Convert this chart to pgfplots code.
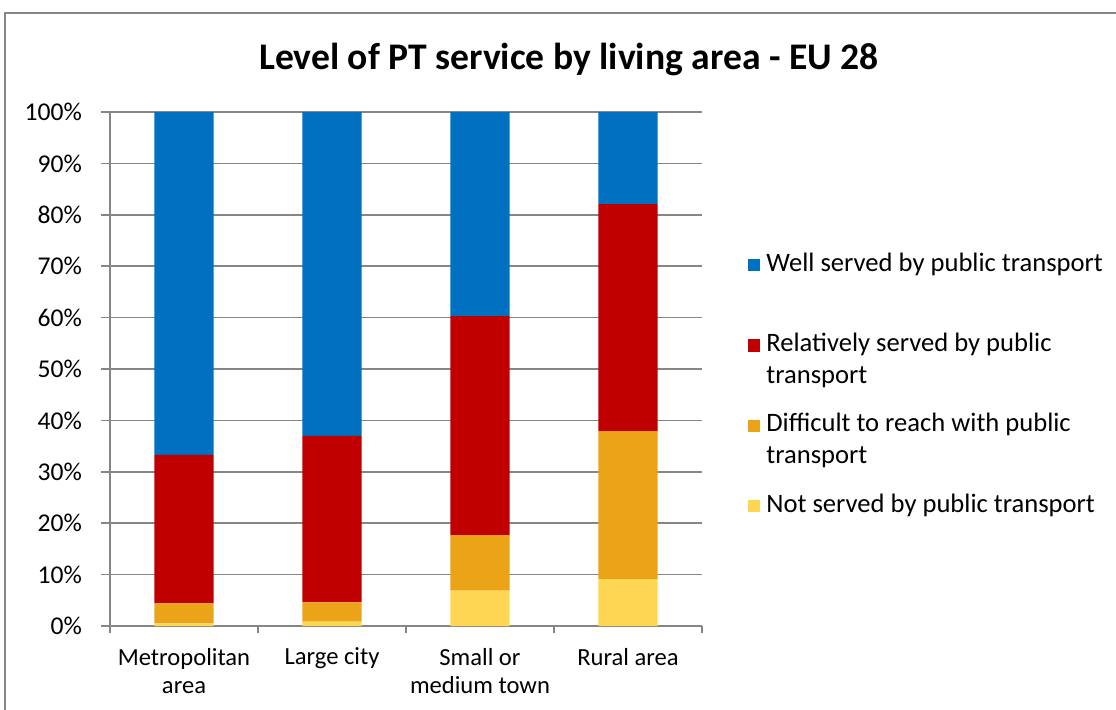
\documentclass[border=0pt]{standalone}
\usepackage{fontspec}
\setmainfont{Carlito}
\usepackage{pgfplots}
\usepackage{pgfplotstable}
\pgfplotsset{compat=1.18}

\definecolor{wellc}{HTML}{0070C0}
\definecolor{relc}{HTML}{C00000}
\definecolor{diffc}{HTML}{EBA417}
\definecolor{notc}{HTML}{FFD653}
\definecolor{gridc}{HTML}{868686}

% legend entries: stacked lines, first line on the baseline
\newcommand{\lent}[1]{\vtop{#1}}
\newcommand{\lline}[1]{\hbox{\strut #1}}

\pgfplotstableread{
x notserved difficult relatively well
1 0.5  3.9  28.9 66.7
2 0.85 3.75 32.4 63.0
3 6.9  10.8 42.6 39.7
4 9.1  28.8 44.2 17.9
}\ptdata

\begin{document}
\begin{tikzpicture}
\path[use as bounding box] (0,0) rectangle (558pt,354.5pt);
\draw[gridc, line width=0.9pt] (2.5pt,-20pt) -- (2.5pt,348pt) -- (600pt,348pt);
\node[font=\bfseries\fontsize{18.8}{22}\selectfont] at (284.5pt,325pt)
  {Level of PT service by living area - EU 28};
\begin{axis}[
    at={(55pt,41.5pt)}, anchor=south west,
    scale only axis, width=296pt, height=257pt,
    ybar stacked, bar width=0.4,
    xmin=0.5, xmax=4.5, ymin=0, ymax=100,
    axis x line*=bottom, axis y line*=left,
    axis line style={gridc, line width=0.75pt},
    xtick={1,2,3,4},
    xticklabels={Metropolitan\\area, Large city, Small or\\medium town, Rural area},
    major x tick style={draw=none},
    minor xtick={0.5,1.5,2.5,3.5,4.5},
    minor tick length=3.5pt, major tick length=4.5pt,
    tick align=outside,
    tick style={gridc, line width=0.75pt},
    ytick={0,10,...,100},
    yticklabel={\pgfmathprintnumber{\tick}\%},
    /pgf/number format/assume math mode=true,
    ymajorgrids, grid style={gridc, line width=0.75pt},
    xticklabel style={font=\fontsize{12.3}{14.2}\selectfont, align=center, yshift=-3pt},
    yticklabel style={font=\fontsize{12.8}{14.5}\selectfont, xshift=-6pt},
    reverse legend,
    legend style={at={(1.0777,0.735)}, anchor=north west, draw=none,
      inner sep=0pt, row sep=0pt, column sep=3pt,
      font=\fontsize{13.3}{16}\selectfont,
      nodes={inner sep=0pt, anchor=base west, text height=11.2pt, text depth=29pt}},
    legend image code/.code={\fill[#1] (0pt,-0.1pt) rectangle (6pt,6pt);},
  ]
  \addplot[fill=notc, draw=none] table[x=x, y=notserved] {\ptdata};
  \addlegendentry{\lent{\lline{Not served by public transport}}}
  \addplot[fill=diffc, draw=none] table[x=x, y=difficult] {\ptdata};
  \addlegendentry{\lent{\lline{Difficult to reach with public}\lline{transport}}}
  \addplot[fill=relc, draw=none] table[x=x, y=relatively] {\ptdata};
  \addlegendentry{\lent{\lline{Relatively served by public}\lline{transport}}}
  \addplot[fill=wellc, draw=none] table[x=x, y=well] {\ptdata};
  \addlegendentry{\lent{\lline{Well served by public transport}}}
\end{axis}
\end{tikzpicture}
\end{document}
